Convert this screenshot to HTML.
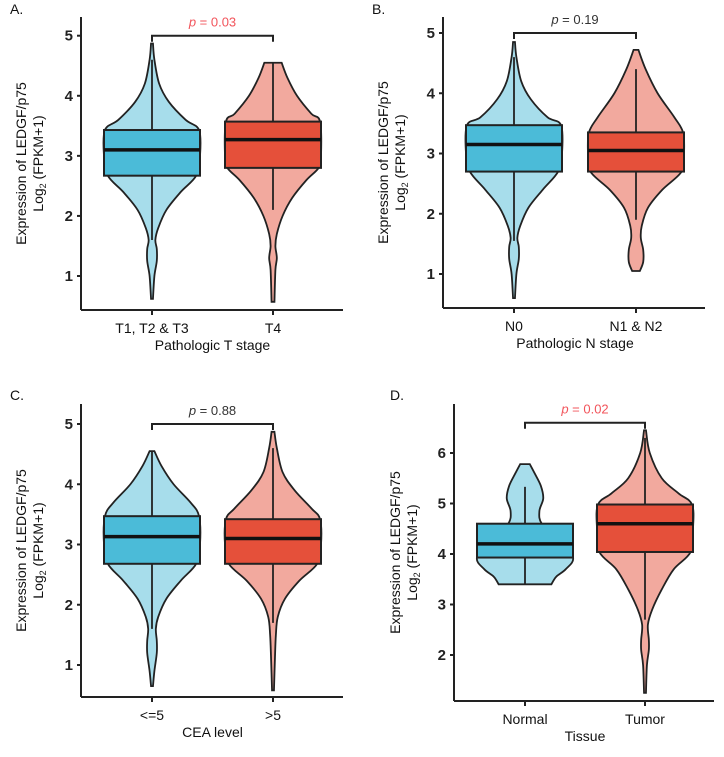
<!DOCTYPE html>
<html><head><meta charset="utf-8"><style>
body{margin:0;background:#fff;width:724px;height:757px;overflow:hidden;font-family:"Liberation Sans",sans-serif}
svg{display:block}
</style></head><body>
<svg id="fig" width="724" height="757" xmlns="http://www.w3.org/2000/svg"></svg>
<script>
// ---- data ----
const panelLetters = ["A.","B.","C.","D."];
const xTitles = ["Pathologic T stage","Pathologic N stage","CEA level","Tissue"];
const categories = [["T1, T2 & T3","T4"],["N0","N1 & N2"],["<=5",">5"],["Normal","Tumor"]];
const pLabels = ["= 0.03","= 0.19","= 0.88","= 0.02"];
const pRed = [true,false,false,true];
const yTicks = [[1,2,3,4,5],[1,2,3,4,5],[1,2,3,4,5],[2,3,4,5,6]];
const medians = [[3.1,3.27],[3.15,3.05],[3.13,3.1],[4.2,4.6]];
const q1 = [[2.67,2.8],[2.7,2.7],[2.68,2.68],[3.93,4.04]];
const q3 = [[3.43,3.57],[3.47,3.35],[3.47,3.42],[4.6,4.98]];
const whiskLo = [[1.6,2.1],[1.55,1.9],[1.6,1.7],[3.4,2.7]];
const whiskHi = [[4.6,4.55],[4.6,4.4],[4.55,4.6],[5.33,6.3]];
const bracketY = [5,5,5,6.6];
// violin profiles: [value, relative half width]
const violins = [
 [[[4.87,0.02],[4.6,0.05],[4.2,0.15],[3.9,0.35],[3.6,0.7],[3.43,0.98],[3.0,1],[2.67,0.92],[2.4,0.6],[2.1,0.3],[1.8,0.13],[1.6,0.07],[1.45,0.1],[1.25,0.1],[1.0,0.05],[0.62,0.02]],
  [[4.55,0.18],[4.3,0.3],[4.0,0.5],[3.7,0.8],[3.57,0.98],[3.0,1],[2.8,0.95],[2.6,0.7],[2.3,0.4],[2.0,0.2],[1.7,0.08],[1.5,0.05],[1.3,0.08],[1.1,0.05],[0.57,0.03]]],
 [[[4.85,0.02],[4.6,0.05],[4.2,0.15],[3.9,0.35],[3.6,0.7],[3.47,0.98],[3.0,1],[2.7,0.92],[2.4,0.6],[2.1,0.3],[1.8,0.13],[1.6,0.07],[1.45,0.1],[1.25,0.1],[1.0,0.05],[0.6,0.02]],
  [[4.72,0.05],[4.4,0.2],[4.0,0.45],[3.6,0.8],[3.35,0.98],[3.0,1],[2.7,0.95],[2.4,0.55],[2.1,0.25],[1.8,0.12],[1.6,0.1],[1.4,0.15],[1.2,0.15],[1.05,0.08]]],
 [[[4.55,0.05],[4.3,0.2],[4.0,0.45],[3.7,0.8],[3.47,0.98],[3.0,1],[2.68,0.92],[2.4,0.6],[2.1,0.3],[1.8,0.13],[1.6,0.08],[1.4,0.1],[1.2,0.1],[0.9,0.05],[0.65,0.02]],
  [[4.87,0.03],[4.6,0.08],[4.2,0.2],[3.9,0.45],[3.6,0.8],[3.42,0.98],[3.0,1],[2.68,0.92],[2.4,0.55],[2.1,0.25],[1.8,0.1],[1.5,0.06],[1.1,0.04],[0.58,0.02]]],
 [[[5.78,0.1],[5.6,0.2],[5.35,0.33],[5.1,0.38],[4.85,0.3],[4.6,0.35],[4.3,0.7],[3.93,1],[3.7,0.85],[3.55,0.65],[3.4,0.55]],
  [[6.45,0.02],[6.0,0.1],[5.5,0.35],[5.2,0.7],[4.98,0.98],[4.5,1],[4.04,0.95],[3.7,0.6],[3.3,0.35],[2.9,0.15],[2.6,0.06],[2.3,0.08],[2.1,0.08],[1.8,0.04],[1.25,0.02]]]
];
// ---- layout ----
const L = [
 {ax:81, top:17, bot:310, right:343, v0:1, y0:276, v1:5, y1:35.7, cx:[152,273], lx:10, ly:14, titleX:30},
 {ax:443, top:17, bot:308, right:705, v0:1, y0:274, v1:5, y1:33, cx:[514,636], lx:372, ly:14, titleX:392},
 {ax:81, top:404, bot:697, right:343, v0:1, y0:665, v1:5, y1:424, cx:[152,273], lx:10, ly:400, titleX:30},
 {ax:454, top:404, bot:701, right:714, v0:2, y0:655, v1:6, y1:453, cx:[525,645], lx:390, ly:400, titleX:404}
];
const HALF = 48;
const light = ["#A7DDEB","#F2A99E"], dark = ["#4BBBD8","#E5503A"];
const svg = document.getElementById('fig');
const NS = "http://www.w3.org/2000/svg";
function mk(tag, attrs, parent){const e=document.createElementNS(NS,tag);for(const k in attrs)e.setAttribute(k,attrs[k]);(parent||svg).appendChild(e);return e;}
function smooth(pts){
 let d=`M${pts[0][0]},${pts[0][1]}`;
 for(let i=0;i<pts.length-1;i++){const p0=pts[Math.max(0,i-1)],p1=pts[i],p2=pts[i+1],p3=pts[Math.min(pts.length-1,i+2)];
  d+=` C${p1[0]+(p2[0]-p0[0])/6},${p1[1]+(p2[1]-p0[1])/6} ${p2[0]-(p3[0]-p1[0])/6},${p2[1]-(p3[1]-p1[1])/6} ${p2[0]},${p2[1]}`;}
 return d;}
L.forEach((P,pi)=>{
 const y=v=>P.y0+(v-P.v0)*(P.y1-P.y0)/(P.v1-P.v0);
 const g=mk('g',{});
 
 
 const lt=mk('text',{x:P.lx,y:P.ly,'font-size':14,fill:'#111'},g);lt.textContent=panelLetters[pi];
 
 const ya=mk('line',{x1:P.ax,y1:P.top,x2:P.ax,y2:P.bot,stroke:'#222','stroke-width':2},g);
 
 const xa=mk('line',{x1:P.ax,y1:P.bot,x2:P.right,y2:P.bot,stroke:'#222','stroke-width':2},g);
 
 yTicks[pi].forEach(t=>{
  mk('line',{x1:P.ax-4,y1:y(t),x2:P.ax,y2:y(t),stroke:'#222','stroke-width':2},g);
  const tx=mk('text',{x:P.ax-8,y:y(t)+5,'font-size':15,'text-anchor':'end',fill:'#222','font-weight':'bold'},g);tx.textContent=t;
  
 });
 const yt=mk('text',{transform:`translate(${P.titleX},${(P.top+P.bot)/2}) rotate(-90)`,'font-size':14,'text-anchor':'middle',fill:'#111'},g);
 
 const t1=mk('tspan',{x:0,y:-4},yt);t1.textContent="Expression of LEDGF/p75";
 const t2=mk('tspan',{x:0,y:13},yt);t2.textContent="Log";
 const t3=mk('tspan',{'font-size':9,dy:3},yt);t3.textContent="2";
 const t4=mk('tspan',{dy:-3},yt);t4.textContent=" (FPKM+1)";
 [0,1].forEach(k=>{
  const cx=P.cx[k];
  mk('line',{x1:cx,y1:P.bot,x2:cx,y2:P.bot+5,stroke:'#222','stroke-width':2},g);
  const cl=mk('text',{x:cx,y:P.bot+23,'font-size':14,'text-anchor':'middle',fill:'#111'},g);cl.textContent=categories[pi][k];
  
  const prof=violins[pi][k];
  const right=prof.map(p=>[cx+p[1]*HALF,y(p[0])]);
  const left=prof.slice().reverse().map(p=>[cx-p[1]*HALF,y(p[0])]);
  const d=smooth(right)+' L'+left[0][0]+','+left[0][1]+smooth(left).replace(/^M[^C]*/,' ')+' Z';
  const vp=mk('path',{d:d,fill:light[k],stroke:'#222','stroke-width':1.8},g);
  
  const wl=mk('line',{x1:cx,y1:y(whiskLo[pi][k]),x2:cx,y2:y(whiskHi[pi][k]),stroke:'#222','stroke-width':1.8},g);
  
  const bx=mk('rect',{x:cx-HALF,y:y(q3[pi][k]),width:2*HALF,height:y(q1[pi][k])-y(q3[pi][k]),fill:dark[k],stroke:'#222','stroke-width':2},g);
  
  const md=mk('line',{x1:cx-HALF,y1:y(medians[pi][k]),x2:cx+HALF,y2:y(medians[pi][k]),stroke:'#111','stroke-width':3.5},g);
  
 });
 const xt=mk('text',{x:(P.cx[0]+P.cx[1])/2,y:P.bot+40,'font-size':14,'text-anchor':'middle',fill:'#111'},g);xt.textContent=xTitles[pi];
 
 const by=y(bracketY[pi]);
 const br=mk('path',{d:`M${P.cx[0]},${by+6} V${by} H${P.cx[1]} V${by+6}`,fill:'none',stroke:'#222','stroke-width':2},g);
 
 const pt=mk('text',{x:(P.cx[0]+P.cx[1])/2,y:by-9,'font-size':13,'text-anchor':'middle',fill:pRed[pi]?'#F2545B':'#333'},g);
 
 const pi1=mk('tspan',{'font-style':'italic'},pt);pi1.textContent="p ";
 const pi2=mk('tspan',{},pt);pi2.textContent=pLabels[pi];
});
</script>
</body></html>
